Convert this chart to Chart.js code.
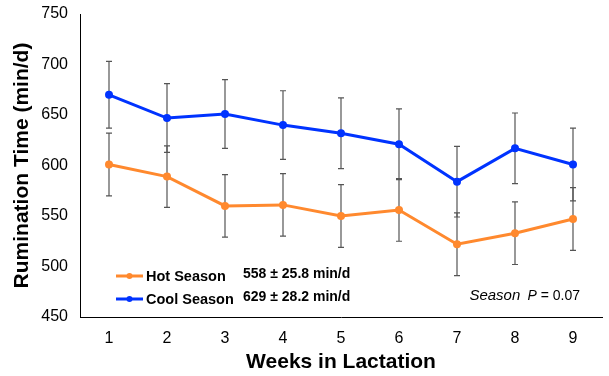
<!DOCTYPE html>
<html>
<head>
<meta charset="utf-8">
<script src="https://cdn.jsdelivr.net/npm/chart.js@4/dist/chart.umd.min.js"></script>
<style>
  html, body { margin: 0; padding: 0; background: #ffffff; }
  #wrap { width: 609px; height: 376px; }
</style>
</head>
<body>
<div id="wrap"><canvas id="chart" width="609" height="376"></canvas></div>
<script>
// Weekly rumination time (min/d) by season, mean ± SE
const weeks = ['1', '2', '3', '4', '5', '6', '7', '8', '9'];
const hotMeans = [601, 589, 560, 561, 550, 556, 522, 533, 547];
const hotSE = [31, 30.5, 31, 31, 31, 31, 31, 31, 31];
const coolMeans = [670, 647, 651, 640, 632, 621, 584, 617, 601];
const coolSE = [33, 34, 34, 34, 35, 35, 35, 35, 36];
const yTicks = [450, 500, 550, 600, 650, 700, 750];
const seriesNames = ['Hot Season', 'Cool Season'];
const seasonSummaries = ['558 \u00b1 25.8 min/d', '629 \u00b1 28.2 min/d'];

const HOT = 'rgb(255, 137, 46)';
const COOL = 'rgb(0, 51, 255)';
const FONT = "'Liberation Sans', Arial, Helvetica, sans-serif";

// Vertical error bars with small caps, drawn under the lines
const errorBars = {
  id: 'errorBars',
  beforeDatasetsDraw(chart) {
    const ctx = chart.ctx;
    const y = chart.scales.y;
    ctx.save();
    ctx.strokeStyle = '#555555';
    ctx.lineWidth = 1.2;
    chart.data.datasets.forEach((ds, i) => {
      const meta = chart.getDatasetMeta(i);
      meta.data.forEach((pt, j) => {
        const v = ds.data[j];
        const e = ds.errors[j];
        const yt = y.getPixelForValue(v + e);
        const yb = y.getPixelForValue(v - e);
        const x = pt.x;
        ctx.beginPath();
        ctx.moveTo(x, yt); ctx.lineTo(x, yb);
        ctx.moveTo(x - 3, yt); ctx.lineTo(x + 3, yt);
        ctx.moveTo(x - 3, yb); ctx.lineTo(x + 3, yb);
        ctx.stroke();
      });
    });
    ctx.restore();
  }
};

// In-plot legend with season summaries and the P-value note
const seasonLegend = {
  id: 'seasonLegend',
  afterDraw(chart) {
    const ctx = chart.ctx;
    const area = chart.chartArea;
    const rowsY = [area.bottom - 41, area.bottom - 18];
    const x0 = area.left + 36;
    ctx.save();
    chart.data.datasets.forEach((ds, i) => {
      const yy = rowsY[i];
      ctx.strokeStyle = ds.borderColor;
      ctx.lineWidth = 3;
      ctx.beginPath();
      ctx.moveTo(x0, yy); ctx.lineTo(x0 + 27, yy);
      ctx.stroke();
      ctx.fillStyle = ds.borderColor;
      ctx.beginPath();
      ctx.arc(x0 + 13.5, yy, 3, 0, Math.PI * 2);
      ctx.fill();
      ctx.fillStyle = '#000';
      ctx.font = 'bold 14.5px ' + FONT;
      ctx.textBaseline = 'middle';
      ctx.textAlign = 'left';
      ctx.fillText(ds.label, x0 + 30, yy + 1);
      ctx.font = 'bold 14px ' + FONT;
      ctx.fillText(seasonSummaries[i], area.left + 163, yy - 2);
    });
    // Season P-value
    const py = area.bottom - 21;
    ctx.fillStyle = '#000';
    ctx.textBaseline = 'middle';
    ctx.textAlign = 'right';
    ctx.font = '14px ' + FONT;
    const tail = ' = 0.07';
    const rx = area.right - 22;
    ctx.fillText(tail, rx, py);
    const tw = ctx.measureText(tail).width;
    ctx.font = 'italic 14px ' + FONT;
    ctx.fillText('P', rx - tw, py);
    const pw = ctx.measureText('P').width;
    ctx.font = 'italic 15px ' + FONT;
    ctx.fillText('Season ', rx - tw - pw - 3, py);
    ctx.restore();
  }
};

new Chart(document.getElementById('chart'), {
  type: 'line',
  data: {
    labels: weeks,
    datasets: [
      {
        label: seriesNames[0],
        data: hotMeans,
        errors: hotSE,
        borderColor: HOT,
        backgroundColor: HOT,
        borderWidth: 3,
        pointRadius: 4,
        pointHoverRadius: 4,
        pointBorderWidth: 0,
        tension: 0
      },
      {
        label: seriesNames[1],
        data: coolMeans,
        errors: coolSE,
        borderColor: COOL,
        backgroundColor: COOL,
        borderWidth: 3,
        pointRadius: 4,
        pointHoverRadius: 4,
        pointBorderWidth: 0,
        tension: 0
      }
    ]
  },
  options: {
    responsive: false,
    animation: false,
    devicePixelRatio: 1,
    layout: { autoPadding: false, padding: { top: 14, right: 7, left: 0, bottom: 0 } },
    plugins: {
      legend: { display: false },
      tooltip: { enabled: false }
    },
    scales: {
      x: {
        offset: true,
        grid: { display: false, drawTicks: false },
        border: { display: true, color: '#000', width: 1 },
        ticks: { color: '#000', font: { family: FONT, size: 16 }, padding: 12, maxRotation: 0 },
        title: {
          display: true,
          text: 'Weeks in Lactation',
          color: '#000',
          font: { family: FONT, size: 21, weight: 'bold' },
          padding: { top: 0, bottom: 1.4 }
        },
        afterFit(scale) {
          scale.height = 59;
          scale.paddingLeft = 0;
          scale.paddingRight = 0;
        }
      },
      y: {
        min: 450,
        max: 750,
        afterBuildTicks(scale) { scale.ticks = yTicks.map(v => ({ value: v })); },
        grid: { display: false, drawTicks: false },
        border: { display: true, color: '#000', width: 1 },
        ticks: { color: '#000', font: { family: FONT, size: 16 }, padding: 12 },
        title: {
          display: true,
          text: 'Rumination Time (min/d)',
          color: '#000',
          font: { family: FONT, size: 21, weight: 'bold' },
          padding: { top: 9.4, bottom: 0 }
        },
        afterFit(scale) {
          scale.width = 80;
          scale.paddingTop = 0;
          scale.paddingBottom = 0;
        }
      }
    }
  },
  plugins: [errorBars, seasonLegend]
});
</script>
</body>
</html>
